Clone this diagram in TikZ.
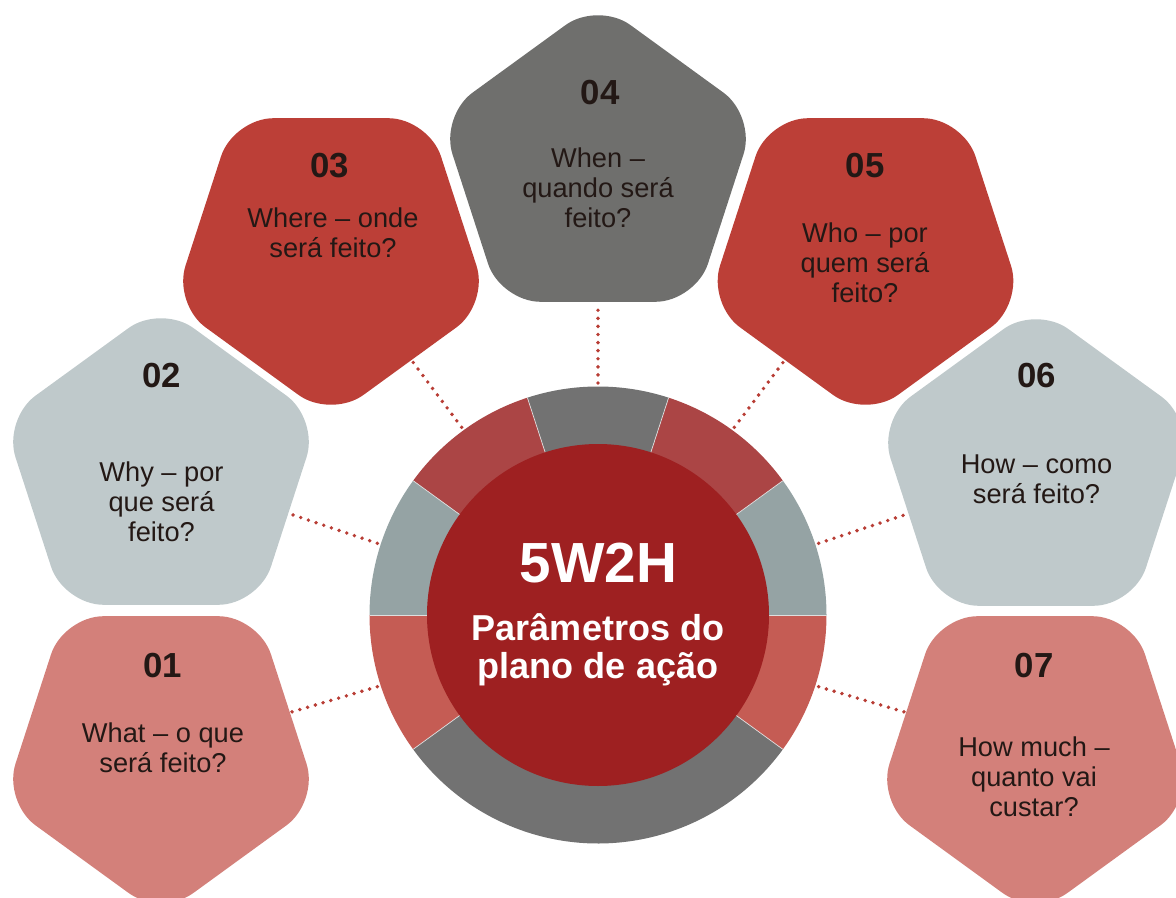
\documentclass[tikz,border=0pt]{standalone}
\usepackage{fontspec}
\setmainfont{Liberation Sans}
\usetikzlibrary{shapes.geometric}

\definecolor{psalmon}{RGB}{211,128,122}
\definecolor{pblue}{RGB}{191,201,203}
\definecolor{pred}{RGB}{188,63,55}
\definecolor{pgray}{RGB}{111,111,109}
\definecolor{ringred}{RGB}{171,69,69}
\definecolor{ringgray}{RGB}{114,114,114}
\definecolor{ringblue}{RGB}{149,163,164}
\definecolor{ringsalmon}{RGB}{197,92,84}
\definecolor{hubred}{RGB}{158,32,33}
\definecolor{txt}{RGB}{35,24,21}
\definecolor{dotred}{RGB}{184,61,53}

\tikzset{
  pent/.style={regular polygon, regular polygon sides=5, minimum size=6.64cm, inner sep=0pt, rounded corners=0.8cm},
  pentdown/.style={pent, shape border rotate=180},
  numtxt/.style={text=txt, font=\bfseries\fontsize{19.8}{22}\selectfont},
  qtxt/.style={text=txt, align=center, font=\fontsize{15.5}{17}\selectfont},
  hubtxt/.style={text=white, align=center, font=\bfseries\fontsize{20.5}{21.5}\selectfont},
  dotline/.style={draw=dotred, line width=2.2pt, line cap=round, dash pattern=on 0pt off 4.6pt}
}

\begin{document}
\begin{tikzpicture}
	\useasboundingbox (0,0) rectangle (23.52,-17.96);
	\clip (0,0) rectangle (23.52,-17.96);
	\coordinate (c) at (11.96,-12.3);
	% ring
	\foreach \s/\e/\col in {0/36/ringblue,36/72/ringred,72/108/ringgray,108/144/ringred,144/180/ringblue,180/216/ringsalmon,216/324/ringgray,324/360/ringsalmon}
		\fill[\col] (c) -- ([shift={(\s:4.57)}]c) arc[start angle=\s, end angle=\e, radius=4.57] -- cycle;
	\foreach \a in {0,36,72,108,144,180,216,324}
		\draw[white!75!gray, line width=0.4pt] (c) -- ([shift={(\a:4.57)}]c);
	\node[circle, fill=hubred, minimum size=6.84cm, inner sep=0pt] (hub) at (c) {};
	\node[text=white, font=\bfseries\fontsize{32.2}{36}\selectfont] (title) at (11.97,-11.27) {5W2H};
	\node[hubtxt] (sub) at (11.96,-12.99) {Parâmetros do\\plano de ação};
	% pentagons
	\node[pentdown, fill=psalmon] (p01) at (3.22,-15.01) {};
	\node[pent, fill=pblue] (p02) at (3.22,-9.41) {};
	\node[pentdown, fill=pred] (p03) at (6.62,-5.05) {};
	\node[pent, fill=pgray] (p04) at (11.96,-3.35) {};
	\node[pentdown, fill=pred] (p05) at (17.31,-5.05) {};
	\node[pent, fill=pblue] (p06) at (20.72,-9.43) {};
	\node[pentdown, fill=psalmon] (p07) at (20.70,-15.01) {};
	% connectors
	\foreach \a/\n in {198/01,162/02,126/03,90/04,54/05,18/06,-18/07}
		\path (c) ++(\a:4.64) coordinate (e\n);
	\foreach \n in {01,02,03,04,05,06,07}
		\draw[dotline] (e\n) -- (p\n);
	% labels
	\node[numtxt] (n01) at (3.26,-13.31) {01};
	\node[qtxt] (t01) at (3.26,-14.96) {What – o que\\será feito?};
	\node[numtxt] (n02) at (3.23,-7.52) {02};
	\node[qtxt] (t02) at (3.23,-10.04) {Why – por\\que será\\feito?};
	\node[numtxt] (n03) at (6.60,-3.32) {03};
	\node[qtxt] (t03) at (6.66,-4.65) {Where – onde\\será feito?};
	\node[numtxt] (n04) at (12.0,-1.85) {04};
	\node[qtxt] (t04) at (11.96,-3.75) {When –\\quando será\\feito?};
	\node[numtxt] (n05) at (17.30,-3.32) {05};
	\node[qtxt] (t05) at (17.30,-5.25) {Who – por\\quem será\\feito?};
	\node[numtxt] (n06) at (20.73,-7.52) {06};
	\node[qtxt] (t06) at (20.73,-9.58) {How – como\\será feito?};
	\node[numtxt] (n07) at (20.68,-13.31) {07};
	\node[qtxt] (t07) at (20.68,-15.54) {How much –\\quanto vai\\custar?};
\end{tikzpicture}
\end{document}
